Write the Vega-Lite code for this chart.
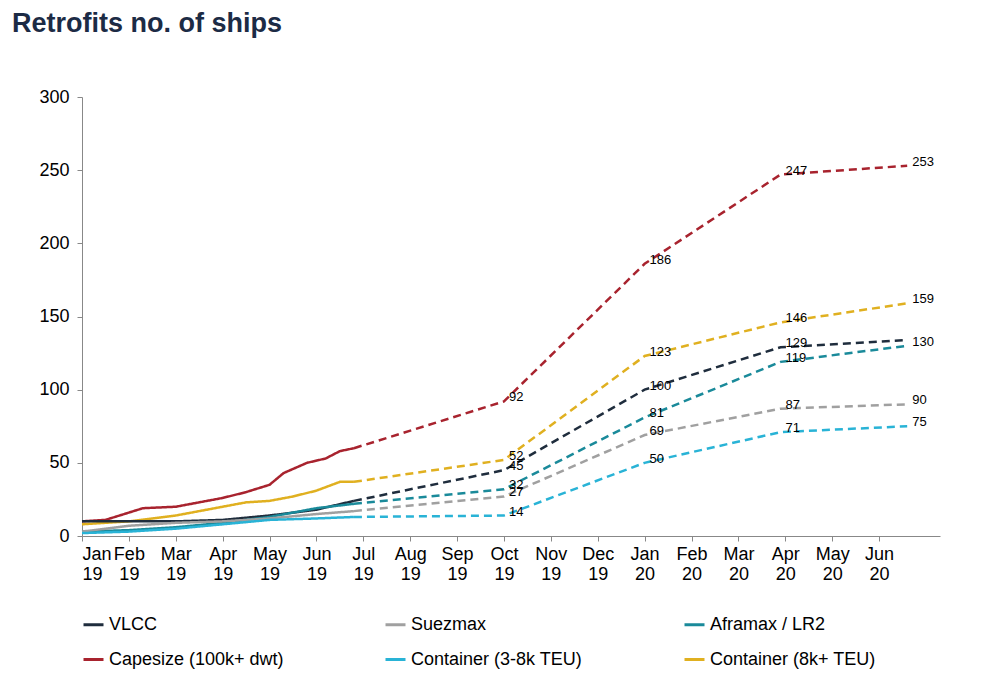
{
  "$schema": "https://vega.github.io/schema/vega-lite/v6.json",
  "width": 1000,
  "height": 691,
  "autosize": {"type": "fit", "contains": "padding"},
  "padding": {"left": 12, "top": 10, "right": 60, "bottom": 22},
  "title": {"text": "Retrofits no. of ships", "anchor": "start", "frame": "bounds", "fontSize": 27, "font": "Liberation Sans", "fontWeight": "bold", "color": "#1c2b45", "offset": 50},
  "data": {"values": [
    {"series": "Capesize (100k+ dwt)", "seg": "a", "m": 0, "v": 10},
    {"series": "Capesize (100k+ dwt)", "seg": "a", "m": 0.5, "v": 11},
    {"series": "Capesize (100k+ dwt)", "seg": "a", "m": 1, "v": 16},
    {"series": "Capesize (100k+ dwt)", "seg": "a", "m": 1.3, "v": 19},
    {"series": "Capesize (100k+ dwt)", "seg": "a", "m": 2, "v": 20},
    {"series": "Capesize (100k+ dwt)", "seg": "a", "m": 2.5, "v": 23},
    {"series": "Capesize (100k+ dwt)", "seg": "a", "m": 3, "v": 26},
    {"series": "Capesize (100k+ dwt)", "seg": "a", "m": 3.5, "v": 30},
    {"series": "Capesize (100k+ dwt)", "seg": "a", "m": 4, "v": 35},
    {"series": "Capesize (100k+ dwt)", "seg": "a", "m": 4.3, "v": 43},
    {"series": "Capesize (100k+ dwt)", "seg": "a", "m": 4.8, "v": 50},
    {"series": "Capesize (100k+ dwt)", "seg": "a", "m": 5.2, "v": 53},
    {"series": "Capesize (100k+ dwt)", "seg": "a", "m": 5.5, "v": 58},
    {"series": "Capesize (100k+ dwt)", "seg": "a", "m": 5.8, "v": 60},
    {"series": "Capesize (100k+ dwt)", "seg": "f", "m": 5.8, "v": 60},
    {"series": "Capesize (100k+ dwt)", "seg": "f", "m": 9, "v": 92, "label": "92"},
    {"series": "Capesize (100k+ dwt)", "seg": "f", "m": 12, "v": 186, "label": "186"},
    {"series": "Capesize (100k+ dwt)", "seg": "f", "m": 14.9, "v": 247, "label": "247"},
    {"series": "Capesize (100k+ dwt)", "seg": "f", "m": 17.6, "v": 253, "label": "253"},
    {"series": "Container (8k+ TEU)", "seg": "a", "m": 0, "v": 8},
    {"series": "Container (8k+ TEU)", "seg": "a", "m": 1, "v": 10},
    {"series": "Container (8k+ TEU)", "seg": "a", "m": 2, "v": 14},
    {"series": "Container (8k+ TEU)", "seg": "a", "m": 3, "v": 20},
    {"series": "Container (8k+ TEU)", "seg": "a", "m": 3.5, "v": 23},
    {"series": "Container (8k+ TEU)", "seg": "a", "m": 4, "v": 24},
    {"series": "Container (8k+ TEU)", "seg": "a", "m": 4.5, "v": 27},
    {"series": "Container (8k+ TEU)", "seg": "a", "m": 5, "v": 31},
    {"series": "Container (8k+ TEU)", "seg": "a", "m": 5.5, "v": 37},
    {"series": "Container (8k+ TEU)", "seg": "a", "m": 5.8, "v": 37},
    {"series": "Container (8k+ TEU)", "seg": "f", "m": 5.8, "v": 37},
    {"series": "Container (8k+ TEU)", "seg": "f", "m": 9, "v": 52, "label": "52"},
    {"series": "Container (8k+ TEU)", "seg": "f", "m": 12, "v": 123, "label": "123"},
    {"series": "Container (8k+ TEU)", "seg": "f", "m": 14.9, "v": 146, "label": "146"},
    {"series": "Container (8k+ TEU)", "seg": "f", "m": 17.6, "v": 159, "label": "159"},
    {"series": "VLCC", "seg": "a", "m": 0, "v": 10},
    {"series": "VLCC", "seg": "a", "m": 2, "v": 10},
    {"series": "VLCC", "seg": "a", "m": 3, "v": 11},
    {"series": "VLCC", "seg": "a", "m": 4, "v": 14},
    {"series": "VLCC", "seg": "a", "m": 5, "v": 18},
    {"series": "VLCC", "seg": "a", "m": 5.8, "v": 24},
    {"series": "VLCC", "seg": "f", "m": 5.8, "v": 24},
    {"series": "VLCC", "seg": "f", "m": 9, "v": 45, "label": "45"},
    {"series": "VLCC", "seg": "f", "m": 12, "v": 100, "label": "100"},
    {"series": "VLCC", "seg": "f", "m": 14.9, "v": 129, "label": "129"},
    {"series": "VLCC", "seg": "f", "m": 17.6, "v": 134},
    {"series": "Aframax / LR2", "seg": "a", "m": 0, "v": 3},
    {"series": "Aframax / LR2", "seg": "a", "m": 1, "v": 4},
    {"series": "Aframax / LR2", "seg": "a", "m": 2, "v": 6},
    {"series": "Aframax / LR2", "seg": "a", "m": 3, "v": 9},
    {"series": "Aframax / LR2", "seg": "a", "m": 4, "v": 13},
    {"series": "Aframax / LR2", "seg": "a", "m": 5, "v": 19},
    {"series": "Aframax / LR2", "seg": "a", "m": 5.8, "v": 22},
    {"series": "Aframax / LR2", "seg": "f", "m": 5.8, "v": 22},
    {"series": "Aframax / LR2", "seg": "f", "m": 9, "v": 32, "label": "32"},
    {"series": "Aframax / LR2", "seg": "f", "m": 12, "v": 81, "label": "81"},
    {"series": "Aframax / LR2", "seg": "f", "m": 14.9, "v": 119, "label": "119"},
    {"series": "Aframax / LR2", "seg": "f", "m": 17.6, "v": 130, "label": "130"},
    {"series": "Suezmax", "seg": "a", "m": 0, "v": 3},
    {"series": "Suezmax", "seg": "a", "m": 1, "v": 7},
    {"series": "Suezmax", "seg": "a", "m": 2, "v": 9},
    {"series": "Suezmax", "seg": "a", "m": 3, "v": 10},
    {"series": "Suezmax", "seg": "a", "m": 4, "v": 12},
    {"series": "Suezmax", "seg": "a", "m": 5, "v": 15},
    {"series": "Suezmax", "seg": "a", "m": 5.8, "v": 17},
    {"series": "Suezmax", "seg": "f", "m": 5.8, "v": 17},
    {"series": "Suezmax", "seg": "f", "m": 9, "v": 27, "label": "27"},
    {"series": "Suezmax", "seg": "f", "m": 12, "v": 69, "label": "69"},
    {"series": "Suezmax", "seg": "f", "m": 14.9, "v": 87, "label": "87"},
    {"series": "Suezmax", "seg": "f", "m": 17.6, "v": 90, "label": "90"},
    {"series": "Container (3-8k TEU)", "seg": "a", "m": 0, "v": 2},
    {"series": "Container (3-8k TEU)", "seg": "a", "m": 1, "v": 3},
    {"series": "Container (3-8k TEU)", "seg": "a", "m": 2, "v": 5},
    {"series": "Container (3-8k TEU)", "seg": "a", "m": 3, "v": 8},
    {"series": "Container (3-8k TEU)", "seg": "a", "m": 4, "v": 11},
    {"series": "Container (3-8k TEU)", "seg": "a", "m": 5, "v": 12},
    {"series": "Container (3-8k TEU)", "seg": "a", "m": 5.8, "v": 13},
    {"series": "Container (3-8k TEU)", "seg": "f", "m": 5.8, "v": 13},
    {"series": "Container (3-8k TEU)", "seg": "f", "m": 9, "v": 14, "label": "14"},
    {"series": "Container (3-8k TEU)", "seg": "f", "m": 12, "v": 50, "label": "50"},
    {"series": "Container (3-8k TEU)", "seg": "f", "m": 14.9, "v": 71, "label": "71"},
    {"series": "Container (3-8k TEU)", "seg": "f", "m": 17.6, "v": 75, "label": "75"}
  ]},
  "encoding": {
    "x": {"field": "m", "type": "quantitative", "scale": {"domain": [0, 18.3], "nice": false},
      "axis": {"title": null, "values": [0,1,2,3,4,5,6,7,8,9,10,11,12,13,14,15,16,17], "grid": false, "labelOverlap": false,
        "labelExpr": "[['Jan','Feb','Mar','Apr','May','Jun','Jul','Aug','Sep','Oct','Nov','Dec'][datum.value % 12], datum.value < 12 ? '19' : '20']",
        "labelFontSize": 18, "labelFont": "Liberation Sans", "labelColor": "#000", "domainColor": "#888", "tickColor": "#888", "labelPadding": 4}},
    "y": {"field": "v", "type": "quantitative", "scale": {"domain": [0, 300]},
      "axis": {"title": null, "values": [0,50,100,150,200,250,300], "grid": false, "minExtent": 70, "labelFontSize": 18, "labelFont": "Liberation Sans", "labelColor": "#000", "domainColor": "#888", "tickColor": "#888", "labelPadding": 8}},
    "color": {"field": "series", "type": "nominal",
      "scale": {"domain": ["VLCC", "Suezmax", "Aframax / LR2", "Capesize (100k+ dwt)", "Container (3-8k TEU)", "Container (8k+ TEU)"],
        "range": ["#1f2d3d", "#a0a0a0", "#1a8a9a", "#a8232e", "#29b3d6", "#e0b020"]},
      "legend": {"title": null, "orient": "bottom", "columns": 3, "symbolType": "stroke", "symbolStrokeWidth": 3, "symbolSize": 400, "labelFontSize": 18, "labelFont": "Liberation Sans", "labelColor": "#000", "columnPadding": 95, "rowPadding": 14, "labelLimit": 300, "offset": 30}}
  },
  "layer": [
    {"mark": {"type": "line", "strokeWidth": 2.5},
      "encoding": {"detail": {"field": "seg"}, "strokeDash": {"field": "seg", "type": "nominal", "scale": {"domain": ["a", "f"], "range": [[1, 0], [8, 5]]}, "legend": null}}},
    {"mark": {"type": "text", "align": "left", "dx": 5, "dy": -4, "fontSize": 13, "font": "Liberation Sans", "color": "#000"},
      "transform": [{"filter": "datum.label"}],
      "encoding": {"text": {"field": "label"}, "color": {"value": "#000"}}}
  ],
  "config": {"view": {"stroke": null}}
}
